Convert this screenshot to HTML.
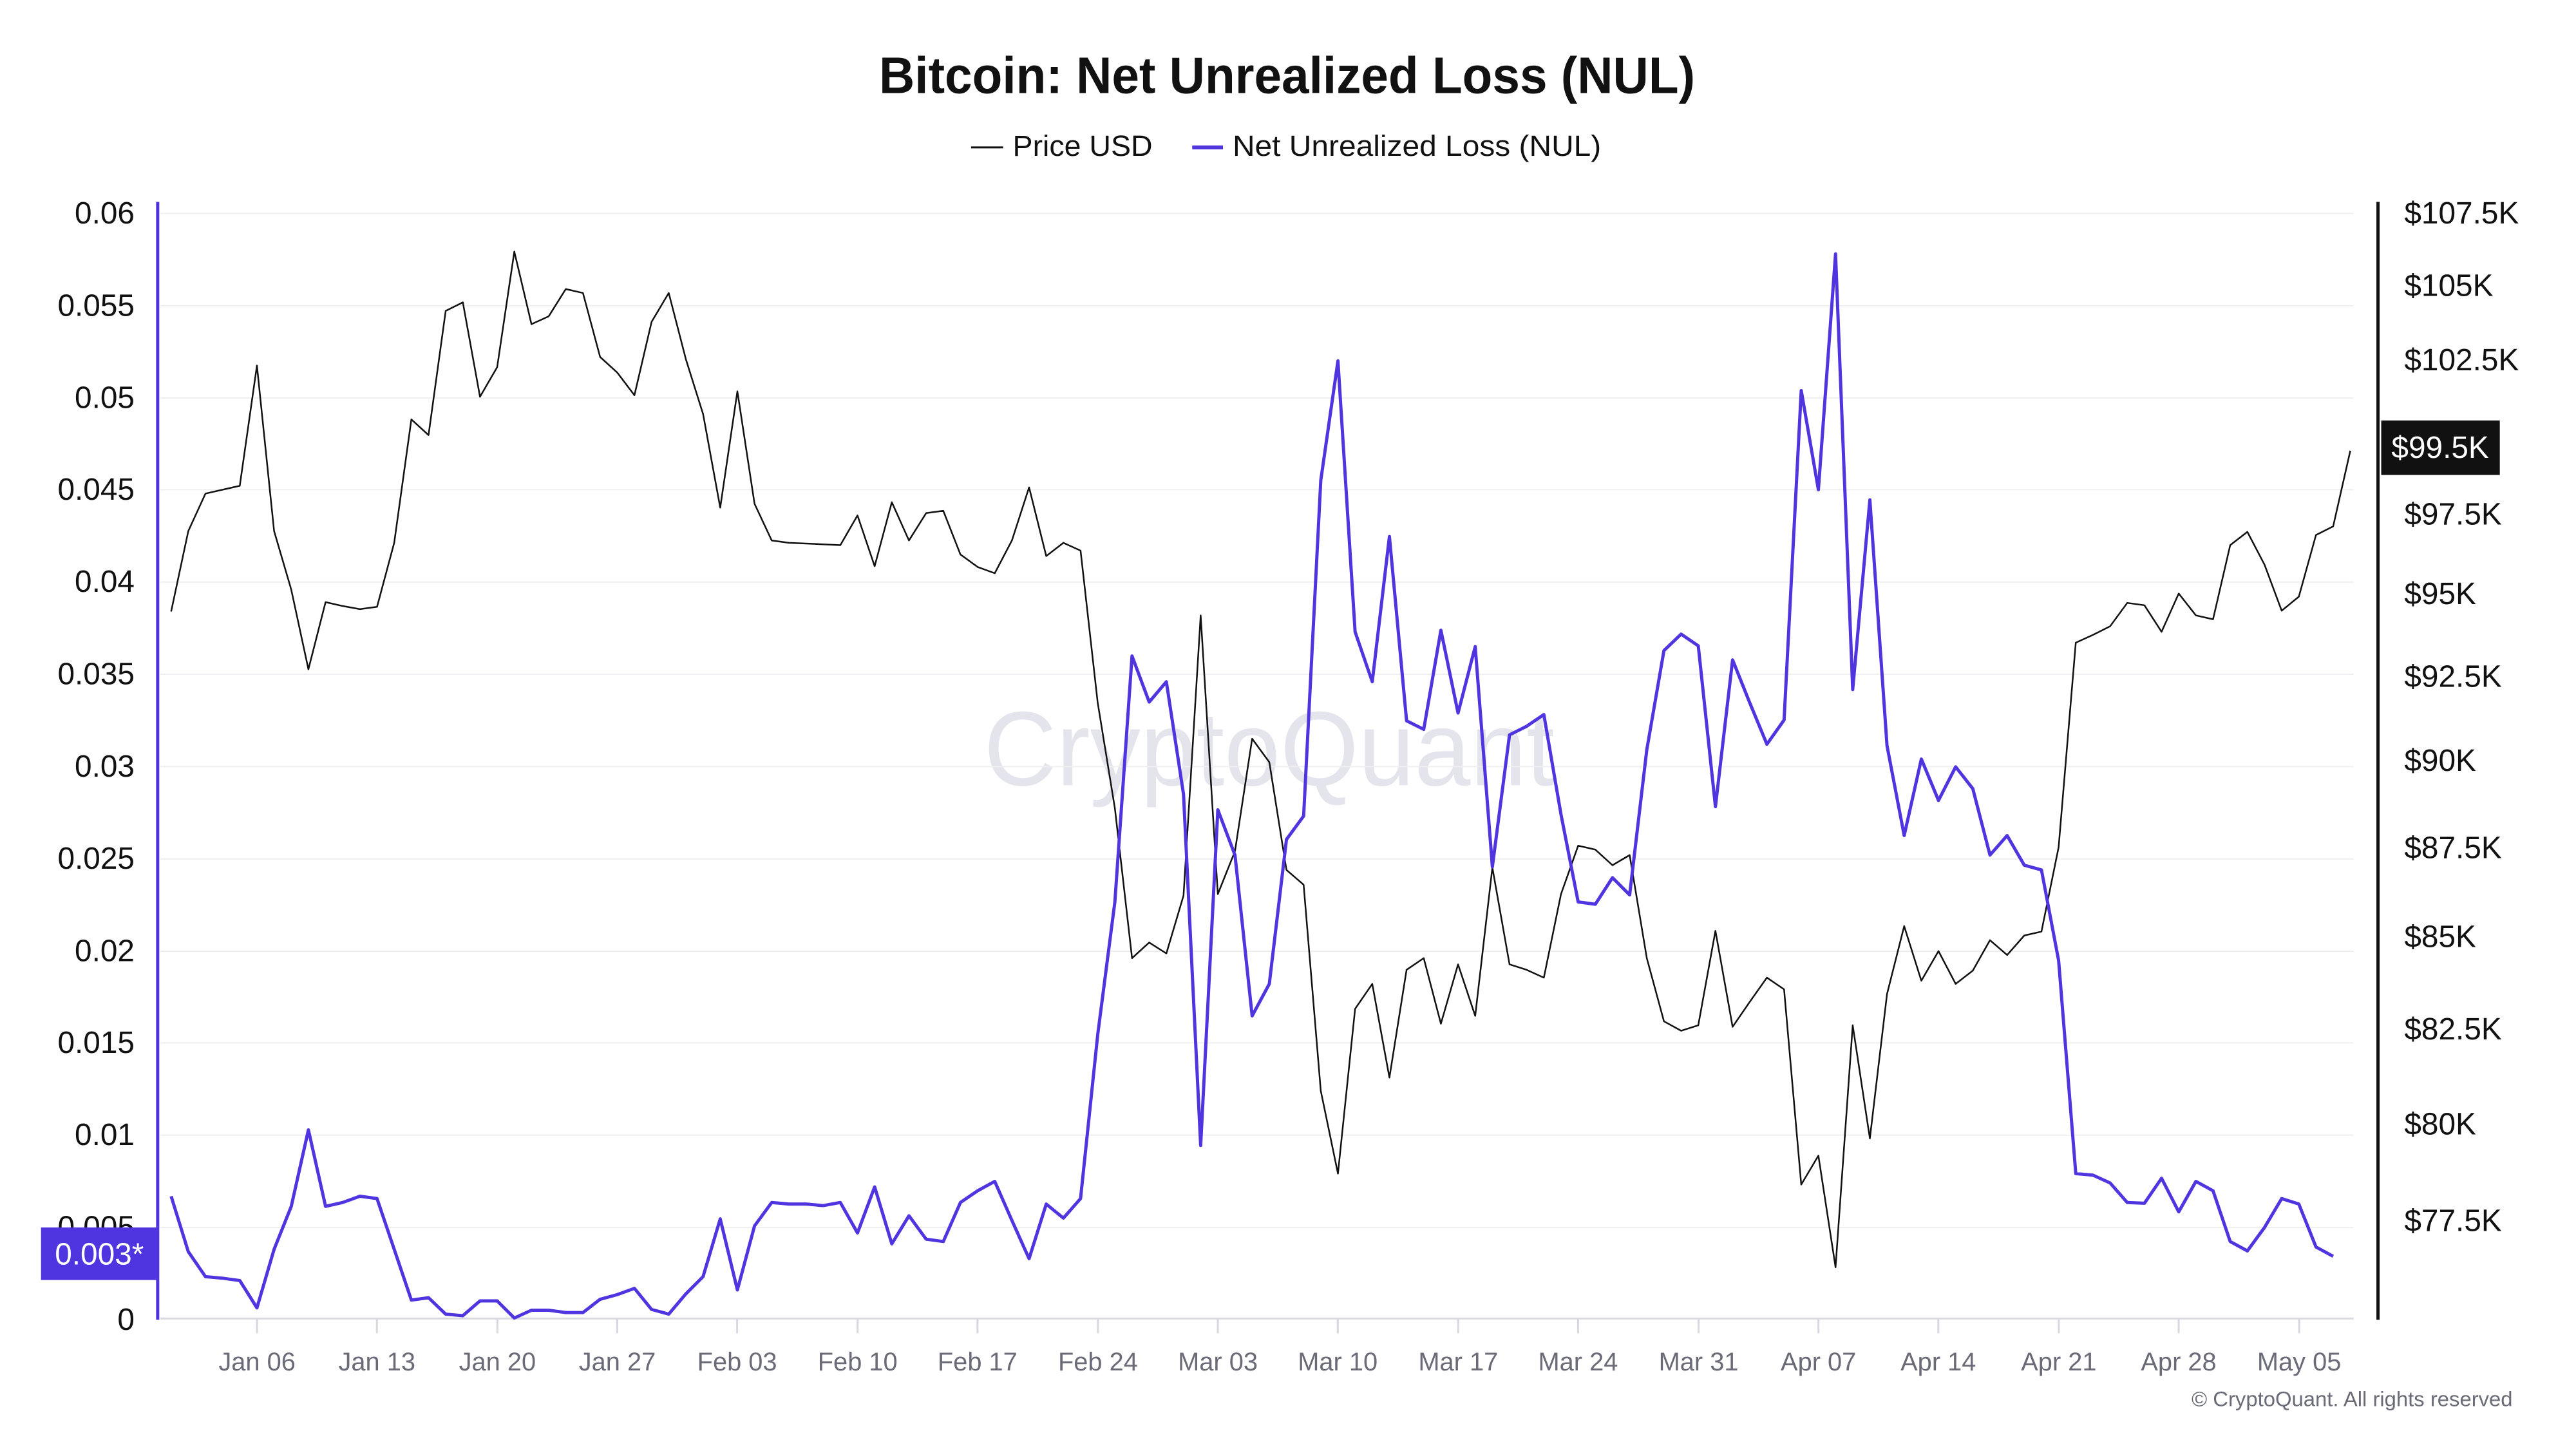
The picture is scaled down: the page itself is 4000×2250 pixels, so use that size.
<!DOCTYPE html>
<html><head><meta charset="utf-8"><style>
html,body{margin:0;padding:0;background:#fff;}
svg{display:block;font-family:"Liberation Sans",sans-serif;}
</style></head><body>
<svg width="4000" height="2250" viewBox="0 0 4000 2250" xmlns="http://www.w3.org/2000/svg">
<rect width="4000" height="2250" fill="#fff"/>
<g transform="scale(0.9953)">
<text x="2008" y="145" text-anchor="middle" font-size="80" font-weight="bold" fill="#111" textLength="1273" lengthAdjust="spacingAndGlyphs">Bitcoin: Net Unrealized Loss (NUL)</text>
<line x1="1515" y1="230" x2="1565" y2="230" stroke="#111" stroke-width="3"/>
<text x="1580" y="243" font-size="46" fill="#111" textLength="218" lengthAdjust="spacingAndGlyphs">Price USD</text>
<line x1="1860" y1="230" x2="1908" y2="230" stroke="#4f35e0" stroke-width="6"/>
<text x="1923" y="243" font-size="46" fill="#111" textLength="575" lengthAdjust="spacingAndGlyphs">Net Unrealized Loss (NUL)</text>
<text x="1980" y="1225" text-anchor="middle" font-size="165" fill="#e4e4ec" textLength="890" lengthAdjust="spacingAndGlyphs">CryptoQuant</text>
<g stroke="#efeff2" stroke-width="2">
<line x1="250" y1="333" x2="3672" y2="333"/><line x1="250" y1="477" x2="3672" y2="477"/><line x1="250" y1="621" x2="3672" y2="621"/><line x1="250" y1="764" x2="3672" y2="764"/><line x1="250" y1="908" x2="3672" y2="908"/><line x1="250" y1="1052" x2="3672" y2="1052"/><line x1="250" y1="1196" x2="3672" y2="1196"/><line x1="250" y1="1340" x2="3672" y2="1340"/><line x1="250" y1="1484" x2="3672" y2="1484"/><line x1="250" y1="1627" x2="3672" y2="1627"/><line x1="250" y1="1771" x2="3672" y2="1771"/><line x1="250" y1="1915" x2="3672" y2="1915"/>
</g>
<line x1="250" y1="2057" x2="3672" y2="2057" stroke="#d8d8e0" stroke-width="3"/>
<g stroke="#d8d8e0" stroke-width="3">
<line x1="401" y1="2057" x2="401" y2="2080"/><line x1="588" y1="2057" x2="588" y2="2080"/><line x1="776" y1="2057" x2="776" y2="2080"/><line x1="963" y1="2057" x2="963" y2="2080"/><line x1="1150" y1="2057" x2="1150" y2="2080"/><line x1="1338" y1="2057" x2="1338" y2="2080"/><line x1="1525" y1="2057" x2="1525" y2="2080"/><line x1="1713" y1="2057" x2="1713" y2="2080"/><line x1="1900" y1="2057" x2="1900" y2="2080"/><line x1="2087" y1="2057" x2="2087" y2="2080"/><line x1="2275" y1="2057" x2="2275" y2="2080"/><line x1="2462" y1="2057" x2="2462" y2="2080"/><line x1="2650" y1="2057" x2="2650" y2="2080"/><line x1="2837" y1="2057" x2="2837" y2="2080"/><line x1="3024" y1="2057" x2="3024" y2="2080"/><line x1="3212" y1="2057" x2="3212" y2="2080"/><line x1="3399" y1="2057" x2="3399" y2="2080"/><line x1="3587" y1="2057" x2="3587" y2="2080"/>
</g>
<g font-size="40" fill="#6b6b78" text-anchor="middle">
<text x="401" y="2138">Jan 06</text><text x="588" y="2138">Jan 13</text><text x="776" y="2138">Jan 20</text><text x="963" y="2138">Jan 27</text><text x="1150" y="2138">Feb 03</text><text x="1338" y="2138">Feb 10</text><text x="1525" y="2138">Feb 17</text><text x="1713" y="2138">Feb 24</text><text x="1900" y="2138">Mar 03</text><text x="2087" y="2138">Mar 10</text><text x="2275" y="2138">Mar 17</text><text x="2462" y="2138">Mar 24</text><text x="2650" y="2138">Mar 31</text><text x="2837" y="2138">Apr 07</text><text x="3024" y="2138">Apr 14</text><text x="3212" y="2138">Apr 21</text><text x="3399" y="2138">Apr 28</text><text x="3587" y="2138">May 05</text>
</g>
<g font-size="48" fill="#111" text-anchor="end" dominant-baseline="central">
<text x="210" y="333">0.06</text><text x="210" y="477">0.055</text><text x="210" y="621">0.05</text><text x="210" y="764">0.045</text><text x="210" y="908">0.04</text><text x="210" y="1052">0.035</text><text x="210" y="1196">0.03</text><text x="210" y="1340">0.025</text><text x="210" y="1484">0.02</text><text x="210" y="1627">0.015</text><text x="210" y="1771">0.01</text><text x="210" y="1915">0.005</text><text x="210" y="2059">0</text>
</g>
<g font-size="48" fill="#111" dominant-baseline="central">
<text x="3751" y="333">$107.5K</text><text x="3751" y="446">$105K</text><text x="3751" y="562">$102.5K</text><text x="3751" y="803">$97.5K</text><text x="3751" y="927">$95K</text><text x="3751" y="1056">$92.5K</text><text x="3751" y="1187">$90K</text><text x="3751" y="1323">$87.5K</text><text x="3751" y="1462">$85K</text><text x="3751" y="1606">$82.5K</text><text x="3751" y="1754">$80K</text><text x="3751" y="1905">$77.5K</text>
</g>
<line x1="246" y1="315" x2="246" y2="2059" stroke="#4f35e0" stroke-width="5"/>
<line x1="3710" y1="315" x2="3710" y2="2059" stroke="#111" stroke-width="5"/>
<g transform="translate(267,250) scale(26.77,1.218)" fill="none" stroke-linejoin="round">
<polyline vector-effect="non-scaling-stroke" stroke="#111" stroke-width="2.5" points="0,578 1,475 2,427 3,422 4,417 5,263 6,475 7,550 8,652 9,566 10,571 11,575 12,572 13,490 14,332 15,352 16,193 17,182 18,303 19,265 20,117 21,210 22,200 23,165 24,170 25,252 26,272 27,301 28,207 29,170 30,255 31,325 32,445 33,296 34,440 35,487 36,490 37,491 38,492 39,493 40,455 41,520 42,438 43,487 44,452 45,449 46,505 47,521 48,529 49,487 50,419 51,507 52,490 53,500 54,695 55,830 56,1022 57,1002 58,1016 59,942 60,583 61,940 62,885 63,741 64,771 65,909 66,928 67,1192 68,1298 69,1087 70,1055 71,1175 72,1037 73,1022 74,1106 75,1030 76,1096 77,906 78,1030 79,1037 80,1047 81,940 82,878 83,883 84,903 85,890 86,1022 87,1103 88,1115 89,1108 90,987 91,1110 92,1078 93,1047 94,1062 95,1312 96,1275 97,1418 98,1108 99,1253 100,1068 101,981 102,1051 103,1013 104,1055 105,1038 106,999 107,1018 108,993 109,988 110,880 111,618 112,608 113,597 114,567 115,570 116,604 117,555 118,583 119,588 120,493 121,476 122,518 123,577 124,559 125,480 126,469 127,372"/>
<polyline vector-effect="non-scaling-stroke" stroke="#4f35e0" stroke-width="5" points="0,1327 1,1398 2,1430 3,1432 4,1435 5,1470 6,1395 7,1340 8,1242 9,1340 10,1335 11,1327 12,1330 13,1395 14,1460 15,1457 16,1478 17,1480 18,1461 19,1461 20,1483 21,1473 22,1473 23,1476 24,1476 25,1459 26,1453 27,1445 28,1472 29,1478 30,1452 31,1430 32,1356 33,1447 34,1365 35,1335 36,1337 37,1337 38,1339 39,1335 40,1374 41,1315 42,1388 43,1352 44,1382 45,1385 46,1335 47,1320 48,1308 49,1358 50,1407 51,1337 52,1355 53,1330 54,1120 55,950 56,635 57,694 58,668 59,812 60,1262 61,832 62,890 63,1096 64,1055 65,870 66,840 67,410 68,257 69,604 70,668 71,482 72,718 73,729 74,602 75,708 76,623 77,905 78,736 79,725 80,710 81,838 82,950 83,953 84,919 85,941 86,755 87,628 88,607 89,622 90,828 91,640 92,695 93,748 94,717 95,295 96,422 97,120 98,678 99,435 100,750 101,865 102,767 103,820 104,777 105,805 106,890 107,865 108,903 109,909 110,1025 111,1298 112,1300 113,1310 114,1335 115,1336 116,1304 117,1347 118,1308 119,1320 120,1385 121,1397 122,1367 123,1330 124,1337 125,1392 126,1404"/>
</g>
<rect x="64" y="1915" width="182" height="82" fill="#4f35e0"/>
<text x="155" y="1957" text-anchor="middle" dominant-baseline="central" font-size="48" fill="#fff">0.003*</text>
<rect x="3715" y="656" width="185" height="85" fill="#111"/>
<text x="3807" y="699" text-anchor="middle" dominant-baseline="central" font-size="48" fill="#fff">$99.5K</text>
<text x="3920" y="2194" text-anchor="end" font-size="33" fill="#6b6b78">© CryptoQuant. All rights reserved</text>
</g>
</svg>
</body></html>
